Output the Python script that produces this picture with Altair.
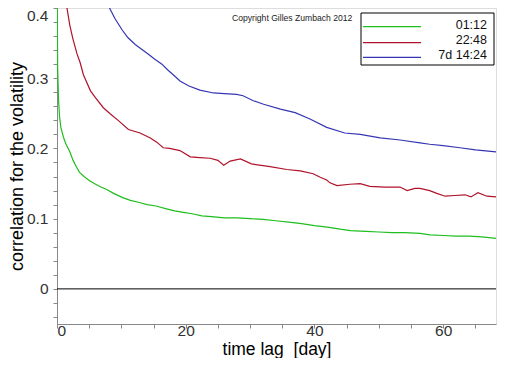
import altair as alt
import pandas as pd

# ---- data ----
series_names = ["01:12", "22:48", "7d 14:24"]
series_colors = ["#1ebe1e", "#b0122a", "#3636b4"]

green_t = [0.02, 0.1, 0.25, 0.4, 0.6, 1.0, 1.4, 1.96, 2.5, 3.0, 3.5, 4.2, 5.06, 6.0, 6.8, 7.65, 8.8,
           10.2, 11.4, 12.8, 14.0, 15.4, 17.0, 18.3, 19.6, 21.0, 22.5, 24.0, 26.0, 28.0, 30.0, 32.0,
           34.0, 36.0, 38.0, 40.0, 42.0, 44.0, 45.6, 48.0, 50.0, 52.0, 54.0, 56.4, 58.0, 60.0, 62.0,
           64.0, 66.0, 68.2]
green_v = [0.45, 0.315, 0.267, 0.245, 0.23, 0.216, 0.206, 0.196, 0.183, 0.174, 0.166, 0.160, 0.154,
           0.149, 0.145, 0.142, 0.136, 0.130, 0.126, 0.123, 0.120, 0.118, 0.114, 0.111, 0.109, 0.107,
           0.104, 0.103, 0.101, 0.101, 0.100, 0.099, 0.097, 0.095, 0.093, 0.090, 0.088, 0.085, 0.083,
           0.082, 0.081, 0.080, 0.080, 0.079, 0.077, 0.076, 0.075, 0.075, 0.074, 0.072]

red_t = [1.3, 1.55, 2.0, 2.5, 3.1, 3.6, 4.1, 5.2, 6.0, 7.2, 8.3, 9.5, 11.1, 12.9, 14.5, 15.5, 16.5,
         17.5, 19.1, 20.7, 22.2, 23.8, 25.0, 25.9, 26.9, 28.5, 30.2, 33.1, 35.7, 37.8, 39.8, 40.9,
         41.9, 42.4, 43.5, 45.5, 47.1, 48.6, 50.9, 53.3, 54.4, 55.6, 56.4, 57.9, 59.0, 60.3, 61.8,
         63.4, 64.3, 65.4, 66.8, 68.2]
red_v = [0.42, 0.40, 0.375, 0.355, 0.335, 0.322, 0.305, 0.282, 0.272, 0.258, 0.249, 0.240, 0.227,
         0.222, 0.215, 0.209, 0.201, 0.200, 0.197, 0.188, 0.187, 0.186, 0.183, 0.176, 0.182, 0.185,
         0.178, 0.174, 0.170, 0.168, 0.164, 0.159, 0.155, 0.151, 0.147, 0.149, 0.150, 0.146, 0.145,
         0.145, 0.140, 0.143, 0.143, 0.140, 0.136, 0.132, 0.133, 0.134, 0.131, 0.137, 0.132, 0.131]

blue_t = [7.9, 8.16, 9.0, 10.1, 11.0, 12.15, 13.2, 14.2, 15.2, 16.3, 17.3, 18.4, 19.1, 20.5, 22.2,
          24.3, 26.0, 27.9, 28.9, 30.5, 32.1, 34.7, 37.0, 39.3, 41.9, 44.7, 47.1, 50.2, 53.3, 56.4,
          57.9, 60.0, 62.6, 65.0, 68.2]
blue_v = [0.404, 0.400, 0.385, 0.369, 0.358, 0.348, 0.341, 0.334, 0.327, 0.320, 0.311, 0.302, 0.296,
          0.289, 0.283, 0.279, 0.278, 0.277, 0.275, 0.268, 0.263, 0.256, 0.251, 0.242, 0.230, 0.222,
          0.220, 0.215, 0.212, 0.208, 0.206, 0.204, 0.201, 0.198, 0.195]

x_ticks = [0, 5, 10, 15, 20, 25, 30, 35, 40, 45, 50, 55, 60, 65]
y_ticks = [-0.04, -0.02, 0.0, 0.02, 0.04, 0.06, 0.08, 0.1, 0.12, 0.14, 0.16, 0.18, 0.2, 0.22,
           0.24, 0.26, 0.28, 0.3, 0.32, 0.34, 0.36, 0.38, 0.4]

rows = []
for name, ts, vs in zip(series_names, [green_t, red_t, blue_t], [green_v, red_v, blue_v]):
    for t, v in zip(ts, vs):
        rows.append({"t": t, "v": v, "series": name})
df = pd.DataFrame(rows)

FONT = "Liberation Sans"
color_scale = alt.Scale(domain=series_names, range=series_colors)
xs = alt.Scale(domain=[0, 68.2], nice=False, zero=False)
ys = alt.Scale(domain=[-0.05, 0.4], nice=False, zero=False)

x_axis = alt.Axis(
    title="time lag\u00a0\u00a0[day]", values=x_ticks,
    labelExpr="datum.value % 20 == 0 ? datum.value : ''",
    labelOverlap=False, tickSize=4, labelPadding=-5, labelFontSize=15.5,
    labelColor="#333", titleFontSize=17.5, titleFontWeight="normal",
    titleY=30, titleBaseline="alphabetic", titleColor="#000", grid=False)
y_axis = alt.Axis(
    title="correlation for the volatility", values=y_ticks,
    labelExpr="abs(datum.value*10 - round(datum.value*10)) < 0.01 ? (abs(datum.value) < 0.001 ? '0' : format(datum.value, '.1f')) : ''",
    labelOverlap=False, labelFlush=True, tickSize=4, labelPadding=5, labelFontSize=15.5,
    labelColor="#333", titleFontSize=18, titleFontWeight="normal",
    titleX=-40, titleY=158, titleAngle=-90, titleBaseline="middle",
    titleAlign="center", titleColor="#000", grid=False)

x_enc = alt.X("t:Q", scale=xs, axis=x_axis)
y_enc = alt.Y("v:Q", scale=ys, axis=y_axis)

lines = alt.Chart(df).mark_line(clip=True, strokeWidth=1.2).encode(
    x=x_enc, y=y_enc,
    color=alt.Color("series:N", scale=color_scale, legend=None),
    detail="series:N",
)

zero = alt.Chart(pd.DataFrame({"v": [0.0]})).mark_rule(color="black", strokeWidth=1).encode(
    y=y_enc
)

copyright_txt = alt.Chart(pd.DataFrame({"s": ["Copyright Gilles Zumbach 2012"]})).mark_text(
    font=FONT, fontSize=8.6, align="left", baseline="middle", color="#222"
).encode(text="s:N", x=alt.value(175), y=alt.value(10))

box = alt.Chart(pd.DataFrame({"b": [1]})).mark_rect(
    fill="white", stroke="black", strokeWidth=1
).encode(x=alt.value(304), x2=alt.value(437), y=alt.value(5), y2=alt.value(57))

leg_line_y = [18.7, 34.7, 49.3]
leg_text_y = [20.5, 35.5, 51.0]
legend_layers = []
for name, col, ly, ty in zip(series_names, series_colors, leg_line_y, leg_text_y):
    one = pd.DataFrame({"series": [name]})
    legend_layers.append(
        alt.Chart(one).mark_rule(strokeWidth=1.2, color=col).encode(
            x=alt.value(306), x2=alt.value(364), y=alt.value(ly))
    )
    legend_layers.append(
        alt.Chart(one).mark_text(font=FONT, fontSize=12.5, align="right",
                                 baseline="alphabetic", color="#111").encode(
            x=alt.value(430), y=alt.value(ty), text="series:N")
    )

chart = alt.layer(lines, zero, copyright_txt, box, *legend_layers).properties(
    width=439, height=316,
    autosize=alt.AutoSizeParams(type="none"),
    padding={"left": 49, "top": 0, "right": 6, "bottom": 34},
).configure_view(stroke=None).configure_axis(
    domainColor="black", tickColor="black", grid=False,
    labelFont=FONT, titleFont=FONT,
).configure(background="white")

chart.save("out.html", embed_options={"renderer": "svg", "actions": False})
